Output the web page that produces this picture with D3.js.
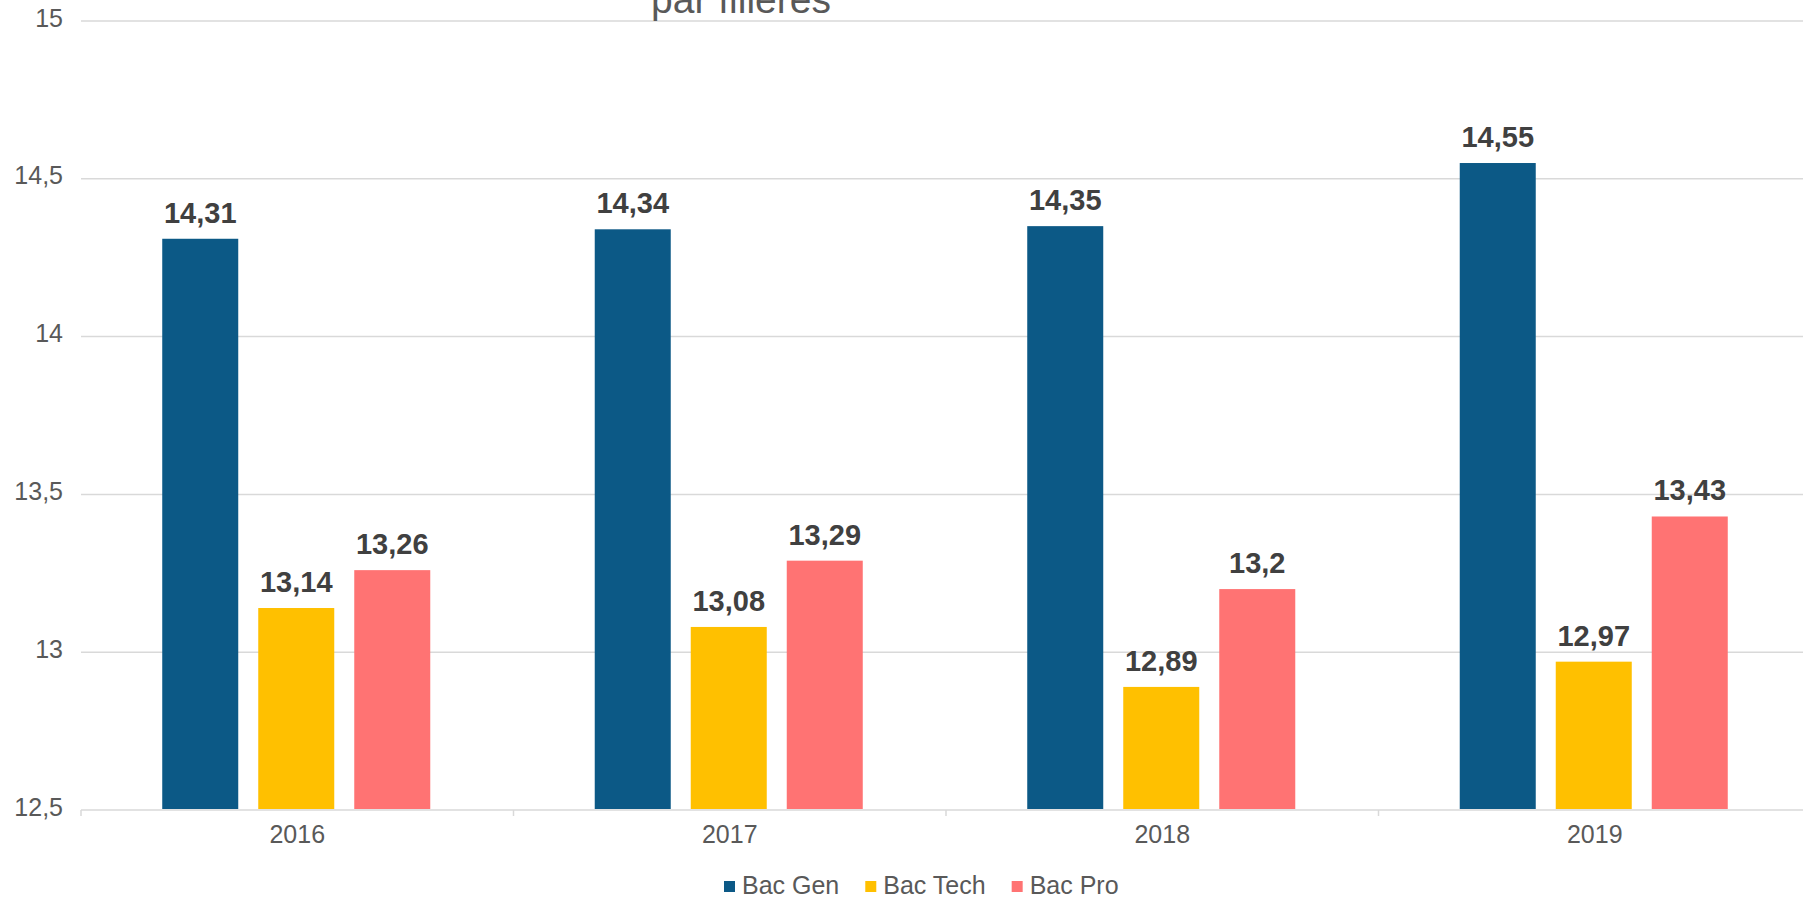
<!DOCTYPE html>
<html>
<head>
<meta charset="utf-8">
<script src="https://cdn.jsdelivr.net/npm/d3@7"></script>
<style>
  html, body { margin: 0; padding: 0; background: #fff; }
  svg { display: block; font-family: "Liberation Sans", Arial, Helvetica, sans-serif; }
</style>
</head>
<body>
<svg id="chart" width="1803" height="898"></svg>
<script>
const years = ["2016", "2017", "2018", "2019"];
const series = ["Bac Gen", "Bac Tech", "Bac Pro"];
const bacGen  = [14.31, 14.34, 14.35, 14.55];
const bacTech = [13.14, 13.08, 12.89, 12.97];
const bacPro  = [13.26, 13.29, 13.2, 13.43];
const yTicks = [12.5, 13, 13.5, 14, 14.5, 15];
const colors = ["#0c5986", "#ffc000", "#ff7373"];
const titleText = "par filières";

(function () {
const values = [bacGen, bacTech, bacPro];
const data = years.map((yr, i) => ({ year: yr, vals: series.map((s, j) => ({ s, j, v: values[j][i] })) }));

const svg = d3.select("#chart");
const pLeft = 81, pRight = 1811, pTop = 21, pBottom = 810;

const y = d3.scaleLinear().domain([12.5, 15]).range([pBottom, pTop]);
const x0 = d3.scaleBand().domain(years).range([pLeft, pRight]).padding(0);
const groupW = x0.bandwidth() * 0.6197;
const x1 = d3.scaleBand().domain(series).range([0, groupW]).paddingInner(0.2083).paddingOuter(0);
const groupOff = (x0.bandwidth() - groupW) / 2 - 1;

const fmt = v => String(v).replace(".", ",");

// gridlines
svg.append("g").selectAll("line").data(yTicks.filter(t => t !== 12.5)).join("line")
  .attr("x1", pLeft).attr("x2", pRight)
  .attr("y1", d => y(d)).attr("y2", d => y(d))
  .attr("stroke", "#d9d9d9").attr("stroke-width", 1.5);

// y labels
const yAxis = d3.axisLeft(y).tickValues(yTicks).tickSize(0).tickPadding(18).tickFormat(fmt);
const ya = svg.append("g").attr("transform", `translate(${pLeft},0)`).call(yAxis);
ya.select(".domain").remove();
ya.selectAll("text").attr("font-size", 25).attr("fill", "#595959")
  .attr("font-family", "'Liberation Sans', Arial, sans-serif").attr("dy", "0.2em");

// bars
const g = svg.append("g").selectAll("g").data(data).join("g")
  .attr("transform", d => `translate(${x0(d.year) + groupOff},0)`);
g.selectAll("rect").data(d => d.vals).join("rect")
  .attr("x", d => x1(d.s)).attr("width", x1.bandwidth())
  .attr("y", d => y(d.v)).attr("height", d => y(12.5) - y(d.v) - 1)
  .attr("fill", d => colors[d.j]);
g.selectAll("text").data(d => d.vals).join("text")
  .attr("x", d => x1(d.s) + x1.bandwidth() / 2)
  .attr("y", d => y(d.v) - 16)
  .attr("text-anchor", "middle")
  .attr("font-size", 29).attr("font-weight", "bold").attr("fill", "#404040")
  .text(d => fmt(d.v));

// x axis
const xa = svg.append("g").attr("transform", `translate(0,${pBottom})`);
xa.append("line").attr("x1", pLeft).attr("x2", pRight).attr("y1", 0).attr("y2", 0)
  .attr("stroke", "#d9d9d9").attr("stroke-width", 1.5);
xa.selectAll("line.tick").data(years.map(yr => x0(yr)).concat([pRight])).join("line")
  .attr("class", "tick")
  .attr("x1", d => d).attr("x2", d => d).attr("y1", 0).attr("y2", 6)
  .attr("stroke", "#d9d9d9").attr("stroke-width", 1.5);
xa.selectAll("text").data(years).join("text")
  .attr("x", d => x0(d) + x0.bandwidth() / 2).attr("y", 33)
  .attr("text-anchor", "middle").attr("font-size", 25).attr("fill", "#595959")
  .text(d => d);

// title (partially visible, as in the reference)
svg.append("text").attr("x", 741).attr("y", 13).attr("text-anchor", "middle")
  .attr("font-size", 39).attr("fill", "#595959").text(titleText);

// legend
const lg = svg.append("g");
let lx = 724;
series.forEach((s, j) => {
  lg.append("rect").attr("x", lx).attr("y", 881).attr("width", 11).attr("height", 11).attr("fill", colors[j]);
  const t = lg.append("text").attr("x", lx + 18).attr("y", 894).attr("font-size", 25).attr("fill", "#595959").text(s);
  lx = lx + 18 + t.node().getComputedTextLength() + 26;
});
})();
</script>
</body>
</html>
